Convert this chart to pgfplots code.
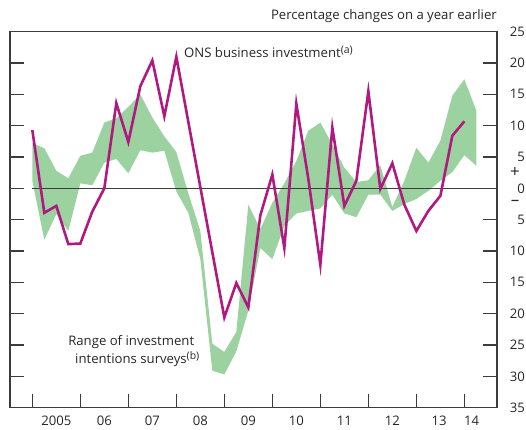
\documentclass[border=0pt]{standalone}
\usepackage{pgfplots}
\pgfplotsset{compat=1.18}
\usepackage{pgfplotstable}
\usepgfplotslibrary{fillbetween}
\usepackage{fontspec}
\setmainfont{Open Sans}
\definecolor{ons}{RGB}{176,26,128}
\definecolor{band}{RGB}{155,210,160}
\definecolor{axc}{RGB}{60,60,60}
\newcommand{\supnote}[1]{\raisebox{0.55ex}{\fontsize{10.5}{12}\selectfont #1}}
\newcommand{\lf}{\fontsize{13.2}{15}\selectfont}

\pgfplotstableread{
q lo hi
0 1.2 7.2
1 -8.2 6.4
2 -4.1 2.8
3 -6.8 1.6
4 0.8 5.2
5 0.5 5.7
6 4.1 10.5
7 4.7 11.2
8 2.4 13.0
9 6.1 15.0
10 5.7 11.3
11 6.0 8.3
12 -0.5 5.8
13 -3.9 -0.8
14 -11.3 -6.8
15 -29.1 -24.8
16 -29.7 -26.1
17 -26.0 -22.9
18 -19.5 -2.6
19 -9.5 -6.5
20 -11.3 -2.3
21 -6.0 0.8
22 -4.0 4.4
23 -3.6 9.2
24 -3.2 10.5
25 -1.0 7.0
26 -4.0 3.3
27 -4.6 1.0
28 -1.0 1.3
29 -1.0 3.7
30 -3.6 -3.0
31 -2.5 1.2
32 -1.7 6.5
33 -0.4 4.1
34 1.2 7.6
35 2.6 14.8
36 5.3 17.4
37 3.6 12.4
}\bandtab

\pgfplotstableread{
q v
0 9.3
1 -3.9
2 -2.8
3 -8.9
4 -8.8
5 -3.7
6 0.0
7 13.6
8 7.4
9 16.3
10 20.4
11 11.5
12 21.0
13 10.6
14 0.2
15 -10.2
16 -20.6
17 -15.1
18 -19.0
19 -4.3
20 2.2
21 -9.5
22 13.5
23 1.5
24 -12.2
25 9.7
26 -2.8
27 1.2
28 15.5
29 -0.1
30 4.0
31 -2.6
32 -6.8
33 -3.6
34 -1.2
35 8.4
36 10.7
}\onstab

\begin{document}
\begin{tikzpicture}
\begin{axis}[
  scale only axis, width=487bp, height=376bp,
  xmin=-1.86, xmax=38.72, ymin=-35, ymax=25,
  clip=false,
  axis line style={axc, line width=1.2bp},
  tick style={axc, line width=1.2bp},
  tick align=inside, major tick length=14bp,
  xtick={0,4,...,36}, xticklabels={},
  xtick pos=bottom,
  extra x ticks={2,6,10,14,18,22,26,30,33.9,36.6},
  extra x tick labels={2005,06,07,08,09,10,11,12,13,14},
  extra x tick style={major tick length=0pt},
  xticklabel style={font=\lf, text=black!85, yshift=-5bp},
  ytick={-35,-30,...,25},
  yticklabels={35,30,25,20,15,10,5,0,5,10,15,20,25},
  ytick pos=both, yticklabel pos=right,
  yticklabel style={anchor=east, inner sep=0pt, xshift=28bp, font=\lf, text=black!85},
]
\addplot[name path=hi, draw=none, forget plot] table[x=q, y=hi] {\bandtab};
\addplot[name path=lo, draw=none, forget plot] table[x=q, y=lo] {\bandtab};
\addplot[band, draw=none] fill between[of=hi and lo];
\addplot[axc, line width=1.1bp] coordinates {(0,0) (37.6,0)};
\addplot[ons, line width=2.6bp, mark=none] table[x=q, y=v] {\onstab};

\node[anchor=base east, font=\lf, text=black!85, inner sep=0pt]
  at ([yshift=12.2bp]rel axis cs:1,1) {Percentage changes on a year earlier};
\node[anchor=base west, font=\lf, text=black!85, inner sep=0pt]
  at (axis cs:12.64,20.9) {ONS business investment\supnote{(a)}};
\node[anchor=base west, font=\lf, text=black!85, inner sep=0pt]
  at (axis cs:2.98,-25.1) {Range of investment};
\node[anchor=base west, font=\lf, text=black!85, inner sep=0pt]
  at (axis cs:3.56,-28.0) {intentions surveys\supnote{(b)}};
\node[font=\fontsize{17}{18}\selectfont, text=black!85, inner sep=0pt]
  at ([xshift=18bp]axis cs:38.72,2.6) {+};
\node[font=\fontsize{17}{18}\selectfont, text=black!85, inner sep=0pt]
  at ([xshift=18bp]axis cs:38.72,-2.4) {–};
\end{axis}
\pgfresetboundingbox
\path[use as bounding box] (-10bp,-22.3bp) rectangle (516bp,407.7bp);
\end{tikzpicture}
\end{document}
